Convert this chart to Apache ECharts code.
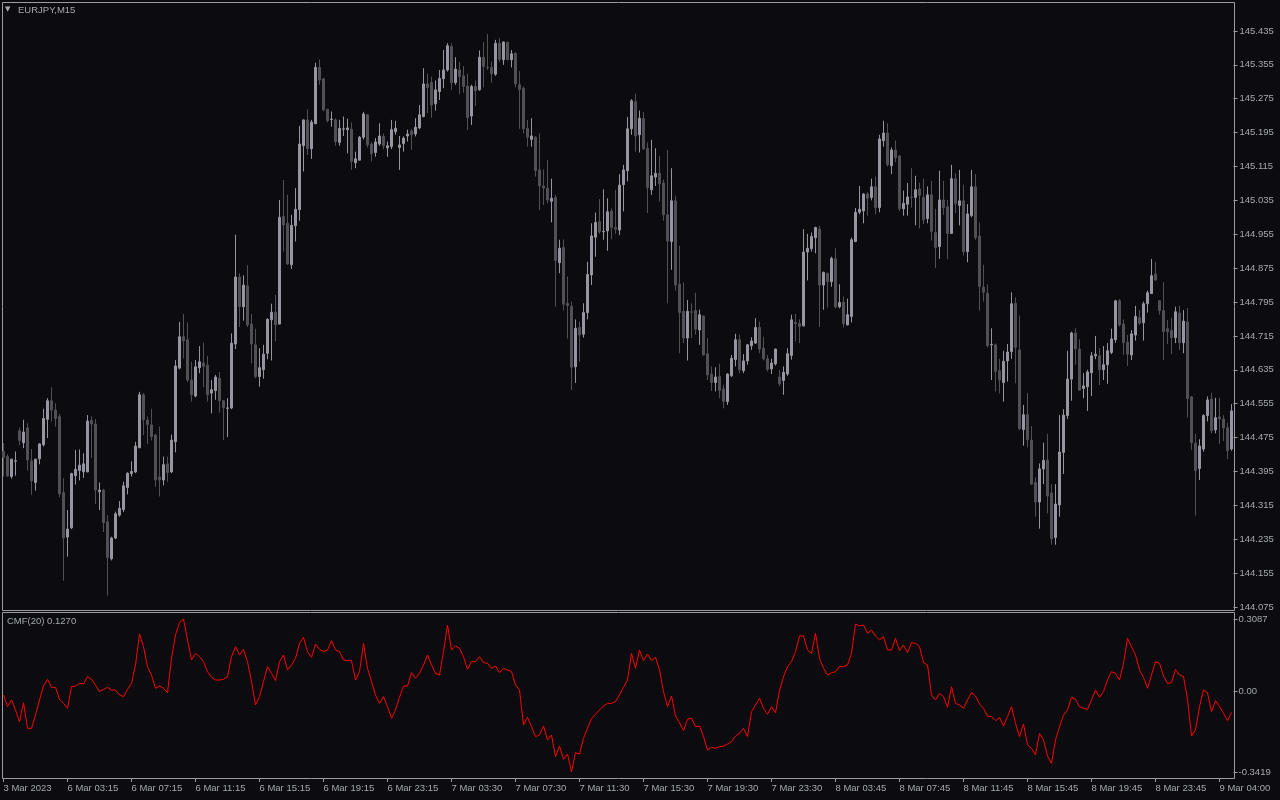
<!DOCTYPE html>
<html><head><meta charset="utf-8">
<script src="https://cdn.jsdelivr.net/npm/echarts/dist/echarts.min.js"></script>
<style>html,body{margin:0;padding:0;background:#0b0b10;}#chart{width:1280px;height:800px;}</style>
</head><body><div id="chart"></div>
<script>
const symbolTitle = 'EURJPY,M15';
const cmfTitle = 'CMF(20) 0.1270';
const xTickLabels = ['3 Mar 2023','6 Mar 03:15','6 Mar 07:15','6 Mar 11:15','6 Mar 15:15','6 Mar 19:15','6 Mar 23:15','7 Mar 03:30','7 Mar 07:30','7 Mar 11:30','7 Mar 15:30','7 Mar 19:30','7 Mar 23:30','8 Mar 03:45','8 Mar 07:45','8 Mar 11:45','8 Mar 15:45','8 Mar 19:45','8 Mar 23:45','9 Mar 04:00'];
const barsPerLabel = 16;

const open = [
144.442,144.430,144.383,144.419,144.491,144.463,144.498,144.420,144.369,144.425,
144.458,144.518,144.562,144.540,144.525,144.345,144.240,144.262,144.385,144.397,
144.394,144.394,144.516,144.507,144.347,144.351,144.276,144.189,144.238,144.292,
144.305,144.357,144.390,144.394,144.451,144.576,144.516,144.505,144.481,144.382,
144.375,144.413,144.394,144.465,144.639,144.713,144.706,144.611,144.573,144.640,
144.651,144.646,144.580,144.586,144.615,144.562,144.544,144.545,144.696,144.854,
144.784,144.833,144.743,144.694,144.619,144.635,144.674,144.753,144.771,144.743,
144.997,144.981,144.883,144.975,145.013,145.164,145.225,145.157,145.216,145.349,
145.322,145.250,145.226,145.225,145.172,145.203,145.202,145.203,145.124,145.130,
145.184,145.237,145.168,145.148,145.168,145.186,145.159,145.162,145.197,145.160,
145.169,145.187,145.199,145.192,145.206,145.233,145.310,145.313,145.263,145.292,
145.322,145.343,145.398,145.313,145.343,145.329,145.305,145.234,145.304,145.296,
145.373,145.349,145.349,145.333,145.406,145.367,145.408,145.367,145.382,145.308,
145.300,145.205,145.179,145.184,145.107,145.069,145.064,145.033,145.042,144.888,
144.924,144.792,144.785,144.642,144.735,144.719,144.770,144.859,144.948,144.985,
144.961,144.963,145.010,144.971,144.965,145.072,145.105,145.204,145.268,145.190,
145.228,145.158,145.060,145.090,145.099,145.076,145.001,144.938,145.034,144.837,
144.773,144.710,144.772,144.775,144.729,144.762,144.673,144.625,144.605,144.619,
144.590,144.560,144.621,144.659,144.706,144.633,144.656,144.692,144.698,144.735,
144.686,144.661,144.637,144.649,144.618,144.610,144.625,144.669,144.747,144.745,
144.739,144.913,144.921,144.947,144.967,144.835,144.863,144.843,144.897,144.784,
144.795,144.741,144.761,144.938,145.007,145.010,145.050,145.042,145.067,145.018,
145.176,145.194,145.117,145.154,145.140,145.015,145.026,145.043,145.042,145.062,
145.042,144.992,145.048,144.959,144.926,145.036,145.020,144.957,145.086,145.023,
145.034,144.914,144.999,145.067,144.951,144.830,144.816,144.694,144.694,144.633,
144.605,144.656,144.678,144.792,144.682,144.494,144.529,144.469,144.369,144.323,
144.401,144.422,144.344,144.239,144.316,144.440,144.527,144.613,144.722,144.684,
144.591,144.595,144.628,144.668,144.668,144.635,144.647,144.676,144.706,144.798,
144.743,144.700,144.670,144.717,144.758,144.746,144.791,144.815,144.861,144.798,
144.775,144.732,144.728,144.711,144.769,144.699,144.748,144.571,144.462,144.402,
144.448,144.527,144.566,144.493,144.524,144.519,144.498,144.448];

const high = [
144.462,144.436,144.425,144.442,144.499,144.517,144.509,144.448,144.425,144.462,
144.543,144.568,144.594,144.556,144.531,144.379,144.304,144.392,144.446,144.447,
144.438,144.528,144.525,144.519,144.369,144.354,144.292,144.241,144.300,144.325,
144.371,144.393,144.419,144.465,144.583,144.580,144.525,144.543,144.484,144.501,
144.430,144.430,144.482,144.658,144.748,144.767,144.747,144.654,144.658,144.691,
144.699,144.668,144.611,144.623,144.630,144.564,144.568,144.721,144.954,144.863,
144.858,144.882,144.767,144.732,144.686,144.694,144.757,144.791,144.812,145.036,
145.083,145.048,145.001,145.064,145.211,145.226,145.250,145.225,145.360,145.368,
145.324,145.251,145.245,145.229,145.225,145.233,145.228,145.219,145.150,145.187,
145.244,145.239,145.172,145.182,145.217,145.193,145.174,145.225,145.223,145.187,
145.186,145.202,145.204,145.229,145.260,145.347,145.334,145.327,145.318,145.343,
145.390,145.406,145.406,145.373,145.362,145.352,145.334,145.308,145.318,145.389,
145.409,145.428,145.363,145.414,145.418,145.410,145.410,145.390,145.385,145.340,
145.304,145.225,145.229,145.187,145.193,145.108,145.130,145.086,145.048,144.942,
144.943,144.855,144.796,144.754,144.749,144.792,144.890,144.981,145.006,145.038,
145.061,145.040,145.016,145.060,145.097,145.119,145.232,145.274,145.287,145.247,
145.244,145.172,145.178,145.158,145.140,145.084,145.154,145.111,145.046,144.928,
144.841,144.800,144.792,144.817,144.777,144.763,144.710,144.643,144.641,144.649,
144.600,144.627,144.670,144.720,144.718,144.672,144.696,144.712,144.757,144.749,
144.713,144.670,144.661,144.685,144.635,144.643,144.686,144.765,144.767,144.754,
144.967,144.956,144.959,144.973,144.975,144.867,144.864,144.902,144.922,144.837,
144.808,144.803,144.947,145.017,145.069,145.052,145.054,145.086,145.091,145.190,
145.223,145.217,145.160,145.176,145.141,145.058,145.076,145.111,145.093,145.077,
145.086,145.068,145.081,145.015,145.105,145.081,145.036,145.119,145.099,145.107,
145.072,145.026,145.107,145.097,144.983,144.883,144.837,144.733,144.697,144.661,
144.680,144.696,144.818,144.806,144.763,144.552,144.580,144.502,144.381,144.414,
144.463,144.484,144.365,144.365,144.528,144.542,144.680,144.725,144.734,144.707,
144.627,144.635,144.677,144.715,144.686,144.691,144.698,144.732,144.800,144.802,
144.754,144.717,144.729,144.786,144.776,144.796,144.822,144.897,144.890,144.800,
144.842,144.753,144.758,144.784,144.786,144.776,144.781,144.573,144.484,144.471,
144.530,144.572,144.581,144.569,144.569,144.528,144.510,144.554];

const low = [
144.383,144.383,144.378,144.385,144.457,144.450,144.397,144.340,144.350,144.412,
144.454,144.474,144.513,144.501,144.334,144.137,144.194,144.259,144.364,144.374,
144.380,144.393,144.427,144.318,144.304,144.252,144.102,144.185,144.235,144.288,
144.299,144.341,144.383,144.391,144.450,144.481,144.460,144.468,144.359,144.336,
144.362,144.371,144.391,144.440,144.636,144.662,144.606,144.560,144.570,144.627,
144.594,144.560,144.532,144.564,144.534,144.469,144.476,144.542,144.684,144.736,
144.751,144.736,144.650,144.615,144.595,144.614,144.660,144.657,144.702,144.742,
144.914,144.883,144.873,144.938,144.987,145.103,145.142,145.133,145.215,145.308,
145.245,145.219,145.209,145.164,145.164,145.187,145.146,145.107,145.111,145.129,
145.179,145.160,145.127,145.138,145.164,145.156,145.138,145.156,145.190,145.107,
145.150,145.174,145.154,145.186,145.203,145.231,145.241,145.230,145.247,145.272,
145.300,145.339,145.296,145.308,145.286,145.289,145.201,145.213,145.258,145.294,
145.302,145.343,145.313,145.329,145.362,145.355,145.366,145.349,145.302,145.204,
145.193,145.162,145.162,145.091,145.012,145.024,145.028,144.983,144.784,144.863,
144.775,144.709,144.587,144.604,144.654,144.711,144.754,144.835,144.902,144.956,
144.942,144.916,144.943,144.956,144.953,145.009,145.080,145.190,145.150,145.148,
145.154,145.005,145.048,145.069,145.032,144.987,144.792,144.871,144.822,144.674,
144.698,144.657,144.710,144.718,144.694,144.668,144.611,144.585,144.584,144.568,
144.544,144.552,144.618,144.643,144.627,144.627,144.647,144.682,144.696,144.674,
144.657,144.631,144.625,144.645,144.596,144.576,144.621,144.659,144.702,144.698,
144.737,144.846,144.914,144.910,144.736,144.777,144.782,144.831,144.780,144.780,
144.735,144.740,144.747,144.936,145.002,144.981,144.999,145.035,145.002,145.007,
145.162,145.115,145.097,145.125,145.010,144.999,144.999,145.018,144.976,144.969,
144.979,144.981,144.940,144.875,144.897,145.001,144.896,144.956,145.005,144.976,
144.905,144.889,144.995,144.942,144.775,144.796,144.688,144.611,144.584,144.579,
144.560,144.607,144.661,144.603,144.493,144.456,144.452,144.364,144.288,144.260,
144.365,144.296,144.222,144.222,144.288,144.389,144.519,144.562,144.647,144.586,
144.568,144.538,144.573,144.660,144.599,144.611,144.602,144.672,144.699,144.737,
144.670,144.644,144.658,144.704,144.741,144.704,144.770,144.814,144.845,144.765,
144.658,144.696,144.672,144.698,144.682,144.674,144.522,144.446,144.291,144.375,
144.442,144.513,144.485,144.485,144.460,144.467,144.424,144.444];

const close = [
144.428,144.384,144.424,144.420,144.468,144.488,144.422,144.373,144.424,144.460,
144.520,144.562,144.540,144.520,144.342,144.238,144.259,144.390,144.400,144.410,
144.413,144.514,144.507,144.351,144.351,144.274,144.192,144.238,144.295,144.308,
144.361,144.391,144.395,144.455,144.576,144.517,144.506,144.477,144.375,144.375,
144.411,144.392,144.469,144.644,144.713,144.703,144.611,144.576,144.642,144.654,
144.643,144.576,144.588,144.618,144.562,144.546,144.545,144.698,144.854,144.784,
144.835,144.741,144.696,144.619,144.640,144.672,144.754,144.771,144.741,144.995,
144.977,144.885,144.976,145.014,145.168,145.225,145.157,145.220,145.349,145.319,
145.249,145.223,145.227,145.174,145.205,145.204,145.206,145.127,145.133,145.184,
145.239,145.166,145.145,145.173,145.187,145.164,145.164,145.202,145.205,145.166,
145.182,145.192,145.190,145.208,145.237,145.310,145.301,145.260,145.296,145.323,
145.343,145.400,145.313,145.345,145.327,145.304,145.230,145.304,145.294,145.373,
145.351,145.348,145.334,145.406,145.368,145.409,145.367,145.381,145.310,145.297,
145.204,145.184,145.187,145.105,145.069,145.064,145.036,145.040,144.893,144.922,
144.790,144.787,144.641,144.733,144.717,144.770,144.860,144.951,144.983,144.961,
144.962,145.008,144.971,144.967,145.071,145.107,145.204,145.270,145.187,145.229,
145.157,145.065,145.093,145.099,145.074,145.001,144.939,145.034,144.835,144.770,
144.710,144.773,144.771,144.731,144.765,144.670,144.623,144.605,144.618,144.586,
144.560,144.625,144.662,144.706,144.635,144.656,144.694,144.703,144.735,144.684,
144.661,144.636,144.651,144.684,144.602,144.629,144.673,144.753,144.744,144.737,
144.913,144.922,144.950,144.971,144.835,144.865,144.843,144.898,144.783,144.794,
144.744,144.765,144.942,145.007,145.014,145.050,145.040,145.067,145.018,145.180,
145.194,145.119,145.154,145.136,145.015,145.028,145.043,145.042,145.060,145.047,
144.989,145.048,144.962,144.924,145.036,145.018,144.957,145.086,145.027,145.034,
144.914,145.003,145.067,144.947,144.832,144.818,144.692,144.695,144.631,144.611,
144.655,144.677,144.791,144.688,144.496,144.529,144.470,144.365,144.323,144.401,
144.421,144.337,144.236,144.318,144.441,144.528,144.613,144.722,144.685,144.587,
144.597,144.630,144.668,144.672,144.635,144.647,144.680,144.708,144.798,144.741,
144.699,144.672,144.720,144.761,144.745,144.791,144.817,144.857,144.847,144.775,
144.725,144.725,144.711,144.772,144.699,144.750,144.567,144.463,144.397,144.455,
144.527,144.564,144.491,144.522,144.519,144.498,144.444,144.538];

const cmf = [
-0.0144,-0.0640,-0.0357,-0.0782,-0.1278,-0.0470,-0.1562,-0.1562,-0.0995,-0.0357,
0.0238,0.0522,0.0182,0.0182,-0.0329,-0.0499,-0.0711,0.0210,0.0238,0.0352,
0.0323,0.0635,0.0522,0.0281,-0.0003,0.0097,0.0182,0.0068,0.0068,-0.0144,
-0.0215,0.0097,0.0352,0.1131,0.2449,0.1911,0.1060,0.0706,0.0139,0.0238,
0.0139,-0.0045,0.1415,0.2407,0.2931,0.3087,0.2194,0.1344,0.1627,0.1486,
0.1273,0.0848,0.0607,0.0493,0.0493,0.0522,0.0635,0.1486,0.1911,0.1556,
0.1797,0.1273,0.0423,-0.0569,-0.0215,0.0423,0.1060,0.0777,0.0465,0.1273,
0.1556,0.0919,0.1131,0.1415,0.2053,0.2308,0.1698,0.1457,0.2024,0.1797,
0.1698,0.1769,0.2166,0.1769,0.1698,0.1344,0.1316,0.1316,0.0493,0.0848,
0.2053,0.0990,0.0423,-0.0144,-0.0499,-0.0215,-0.0640,-0.1136,-0.0782,-0.0244,
0.0238,0.0238,0.0805,0.0564,0.0777,0.1131,0.1556,0.1131,0.0777,0.0706,
0.1698,0.2832,0.1769,0.1939,0.1840,0.1486,0.0947,0.1273,0.1273,0.1486,
0.1230,0.1202,0.0990,0.1089,0.0805,0.0990,0.0919,0.0848,0.0281,0.0068,
-0.1420,-0.1094,-0.1491,-0.1916,-0.1845,-0.1462,-0.2058,-0.1845,-0.2766,-0.2313,
-0.2880,-0.2653,-0.3419,-0.2596,-0.2653,-0.1987,-0.1562,-0.1136,-0.0966,-0.0782,
-0.0612,-0.0499,-0.0499,-0.0428,-0.0144,0.0182,0.0493,0.1627,0.0990,0.1769,
0.1316,0.1599,0.1316,0.1457,0.0919,-0.0003,-0.0640,-0.0187,-0.1037,-0.1321,
-0.1661,-0.1179,-0.1136,-0.1491,-0.1462,-0.1916,-0.2483,-0.2369,-0.2412,-0.2341,
-0.2313,-0.2228,-0.2129,-0.1888,-0.1774,-0.1562,-0.1916,-0.0853,-0.0569,-0.0286,
-0.0711,-0.0966,-0.0640,-0.0895,0.0040,0.0635,0.1060,0.1273,0.1698,0.2364,
0.2364,0.1769,0.1627,0.2478,0.1415,0.0990,0.0706,0.0805,0.0848,0.1060,
0.1060,0.1131,0.1627,0.2875,0.2789,0.2832,0.2478,0.2619,0.2364,0.2194,
0.2336,0.1769,0.1769,0.2265,0.1741,0.1982,0.1656,0.2081,0.2053,0.1911,
0.1230,0.1131,-0.0144,-0.0357,-0.0073,-0.0215,-0.0669,0.0210,-0.0499,-0.0569,
-0.0711,-0.0357,-0.0045,-0.0187,-0.0527,-0.0711,-0.1037,-0.1066,-0.1236,-0.1108,
-0.1462,-0.1066,-0.0640,-0.1349,-0.1916,-0.1377,-0.2270,-0.2412,-0.2695,-0.1774,
-0.2058,-0.2738,-0.3050,-0.2058,-0.1491,-0.0995,-0.0782,-0.0244,-0.0329,-0.0640,
-0.0711,-0.0754,-0.0357,0.0068,-0.0244,-0.0003,0.0493,0.0848,0.0777,0.0493,
0.1202,0.2265,0.1911,0.1556,0.0919,0.0607,0.0139,0.0706,0.1273,0.1202,
0.0664,0.0352,0.0380,0.0947,0.0706,0.0635,-0.0329,-0.1888,-0.1632,-0.0640,
0.0068,-0.0045,-0.0853,-0.0385,-0.0640,-0.0924,-0.1236,-0.0881];

const priceMin = 144.075, priceMax = 145.501, priceStep = 0.08;
const cmfMin = -0.3419, cmfMax = 0.3087;

const BG = '#0b0b10', FRAME = '#9c9ca4', TEXT = '#a6a9b0';
const BULL = '#9696a0', BEAR = '#505056';
const FONT = 'Liberation Sans';

const categories = open.map((_, i) => String(i));
const candles = open.map((o, i) => [o, close[i], low[i], high[i]]);

const chart = echarts.init(document.getElementById('chart'), null, {renderer: 'canvas'});
const lbl = {color: TEXT, fontFamily: FONT, fontSize: 9.5};

chart.setOption({
  backgroundColor: BG,
  animation: false,
  title: [
    {text: '▼', left: 5, top: 6, padding: 0, textStyle: {color: TEXT, fontSize: 7, fontWeight: 'normal', fontFamily: 'DejaVu Sans'}},
    {text: symbolTitle, left: 18, top: 5, padding: 0, textStyle: Object.assign({fontWeight: 'normal'}, lbl)},
    {text: cmfTitle, left: 7, top: 616, padding: 0, textStyle: Object.assign({fontWeight: 'normal'}, lbl)}
  ],
  grid: [
    {left: 1.5, right: 46.5, top: 3, bottom: 193, show: false, containLabel: false, outerBoundsMode: 'none'},
    {left: 1.5, right: 46.5, top: 619, bottom: 28, show: false, containLabel: false, outerBoundsMode: 'none'},
    {left: 2.5, right: 45.5, top: 2.5, bottom: 189.5, show: true, borderColor: FRAME, borderWidth: 1, backgroundColor: 'transparent', containLabel: false, outerBoundsMode: 'none'},
    {left: 2.5, right: 45.5, top: 612.5, bottom: 21.5, show: true, borderColor: FRAME, borderWidth: 1, backgroundColor: 'transparent', containLabel: false, outerBoundsMode: 'none'}
  ],
  xAxis: [
    {gridIndex: 0, type: 'category', data: categories, boundaryGap: true, show: false},
    {gridIndex: 1, type: 'category', data: categories, boundaryGap: true, position: 'bottom', offset: 6,
      axisLine: {show: false, onZero: false},
      axisTick: {show: true, interval: barsPerLabel - 1, alignWithLabel: true, length: 4, lineStyle: {color: FRAME}},
      axisLabel: Object.assign({interval: barsPerLabel - 1, align: 'left', margin: 5,
        formatter: (v, idx) => xTickLabels[idx / barsPerLabel] || ''}, lbl),
      splitLine: {show: false}},
    {gridIndex: 2, type: 'value', show: false, min: 0, max: 1},
    {gridIndex: 3, type: 'value', show: false, min: 0, max: 1}
  ],
  yAxis: [
    {gridIndex: 0, type: 'value', position: 'right', min: priceMin, max: priceMax, interval: priceStep,
      axisLine: {show: false, onZero: false},
      axisTick: {show: true, length: 4, lineStyle: {color: FRAME}},
      axisLabel: Object.assign({margin: 6, showMaxLabel: false, formatter: v => v.toFixed(3)}, lbl),
      splitLine: {show: false}},
    {gridIndex: 1, type: 'value', position: 'right', min: cmfMin, max: cmfMax, interval: -cmfMin,
      axisLine: {show: false, onZero: false},
      axisTick: {show: true, length: 4, lineStyle: {color: FRAME}},
      axisLabel: Object.assign({margin: 5, formatter: v => Math.abs(v) < 1e-9 ? '0.00' : v.toFixed(4)}, lbl),
      splitLine: {show: false}},
    {gridIndex: 2, type: 'value', show: false, min: 0, max: 1},
    {gridIndex: 3, type: 'value', show: false, min: 0, max: 1}
  ],
  series: [
    {type: 'candlestick', xAxisIndex: 0, yAxisIndex: 0, data: candles, barWidth: 2,
      itemStyle: {color: BULL, color0: BEAR, borderColor: BULL, borderColor0: BEAR, borderColorDoji: BULL, borderWidth: 1}},
    {type: 'line', xAxisIndex: 1, yAxisIndex: 1, data: cmf, symbol: 'none', showSymbol: false,
      lineStyle: {color: '#ff0000', width: 1}, itemStyle: {color: '#ff0000'}}
  ]
});
</script>
</body></html>
